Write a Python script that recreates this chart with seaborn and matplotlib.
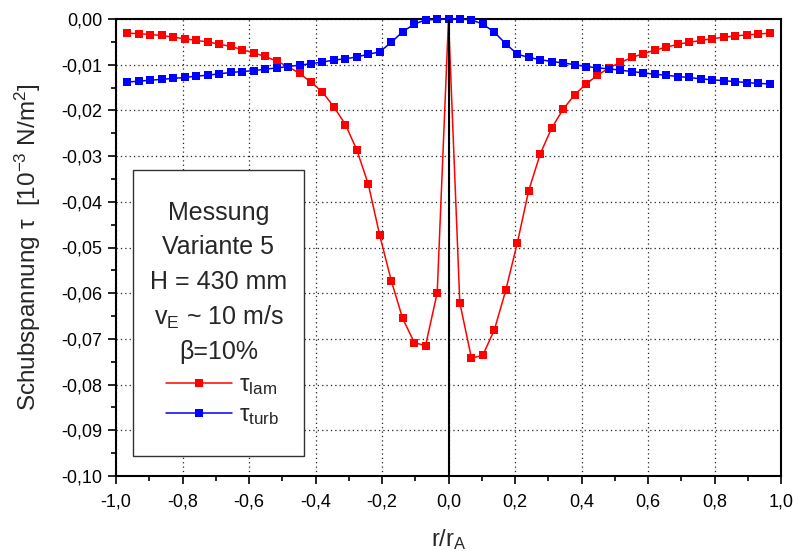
import matplotlib
matplotlib.use("Agg")
import matplotlib.pyplot as plt
import matplotlib.ticker as mticker
from matplotlib.patches import Rectangle
import seaborn as sns
import pandas as pd

# radial position r/r_A of each measuring point
r_pos = [-0.966, -0.931, -0.897, -0.862, -0.828, -0.793, -0.759, -0.724, -0.690, -0.655,
         -0.621, -0.586, -0.552, -0.517, -0.483, -0.448, -0.414, -0.379, -0.345, -0.310,
         -0.276, -0.241, -0.207, -0.172, -0.138, -0.103, -0.069, -0.034, 0.0,
         0.034, 0.069, 0.103, 0.138, 0.172, 0.207, 0.241, 0.276, 0.310, 0.345,
         0.379, 0.414, 0.448, 0.483, 0.517, 0.552, 0.586, 0.621, 0.655, 0.690,
         0.724, 0.759, 0.793, 0.828, 0.862, 0.897, 0.931, 0.966]

# laminar shear stress
tau_lam = [-0.0031, -0.0032, -0.0034, -0.0036, -0.0040, -0.0043, -0.0047, -0.0050, -0.0055, -0.0060,
           -0.0067, -0.0074, -0.0082, -0.0092, -0.0104, -0.0119, -0.0138, -0.0160, -0.0192, -0.0231,
           -0.0286, -0.0362, -0.0473, -0.0573, -0.0655, -0.0708, -0.0715, -0.0599, 0.0,
           -0.0621, -0.0742, -0.0736, -0.0680, -0.0594, -0.0490, -0.0376, -0.0295, -0.0239, -0.0197,
           -0.0166, -0.0142, -0.0123, -0.0107, -0.0095, -0.0084, -0.0076, -0.0068, -0.0062, -0.0055,
           -0.0051, -0.0047, -0.0043, -0.0040, -0.0037, -0.0035, -0.0033, -0.0031]

# turbulent shear stress
tau_turb = [-0.0138, -0.0136, -0.0134, -0.0132, -0.0130, -0.0128, -0.0125, -0.0123, -0.0120, -0.0117,
            -0.0115, -0.0113, -0.0110, -0.0107, -0.0104, -0.0101, -0.0098, -0.0094, -0.0090, -0.0087,
            -0.0083, -0.0077, -0.0072, -0.0051, -0.0028, -0.0011, -0.0002, -0.0001, 0.0,
            0.0, -0.0002, -0.0011, -0.0029, -0.0054, -0.0077, -0.0084, -0.0089, -0.0093, -0.0096,
            -0.0100, -0.0104, -0.0107, -0.0109, -0.0112, -0.0115, -0.0118, -0.0121, -0.0123, -0.0126,
            -0.0128, -0.0131, -0.0133, -0.0135, -0.0137, -0.0139, -0.0141, -0.0142]

series_names = ["lam", "turb"]
series_labels = ["τ$_{\\mathrm{lam}}$", "τ$_{\\mathrm{turb}}$"]
series_colors = ["#ff0000", "#0000ff"]

info_lines = ["Messung", "Variante 5", "H = 430 mm", "v$_{\\mathrm{E}}$ ~ 10 m/s", "β=10%"]

x_ticks = [-1.0, -0.8, -0.6, -0.4, -0.2, 0.0, 0.2, 0.4, 0.6, 0.8, 1.0]
y_ticks = [0.0, -0.01, -0.02, -0.03, -0.04, -0.05, -0.06, -0.07, -0.08, -0.09, -0.10]

df = pd.DataFrame({
    "r": r_pos * 2,
    "tau": tau_lam + tau_turb,
    "series": [series_names[0]] * len(r_pos) + [series_names[1]] * len(r_pos),
})

sns.set_theme(style="ticks")
plt.rcParams["font.family"] = ["Liberation Sans", "DejaVu Sans"]
plt.rcParams["mathtext.fontset"] = "custom"
plt.rcParams["mathtext.rm"] = "Liberation Sans"
plt.rcParams["mathtext.it"] = "Liberation Sans:italic"
plt.rcParams["mathtext.bf"] = "Liberation Sans:bold"

W, H = 793, 551
fig = plt.figure(figsize=(W / 100, H / 100), dpi=100)
ax = fig.add_axes([116 / W, 1 - 476 / H, (781 - 116) / W, (476 - 19) / H])

sns.lineplot(data=df, x="r", y="tau", hue="series", hue_order=series_names,
             palette=dict(zip(series_names, series_colors)), estimator=None, sort=True,
             marker="s", markersize=6, markeredgewidth=0, linewidth=1.1,
             legend=False, ax=ax, zorder=4)
for ln in ax.get_lines():
    ln.set_clip_on(False)

ax.axvline(0, color="black", linewidth=1.5, zorder=5)

ax.set_xlim(-1.0, 1.0)
ax.set_ylim(-0.10, 0.0)
ax.set_xticks(x_ticks)
ax.set_yticks(y_ticks)
ax.xaxis.set_minor_locator(mticker.MultipleLocator(0.1))
ax.yaxis.set_minor_locator(mticker.MultipleLocator(0.005))
ax.xaxis.set_major_formatter(mticker.FuncFormatter(lambda v, p: f"{v:.1f}".replace(".", ",")))
ax.yaxis.set_major_formatter(mticker.FuncFormatter(lambda v, p: ("0,00" if abs(v) < 1e-9 else f"{v:.2f}".replace(".", ","))))

ax.tick_params(which="major", direction="out", length=6, width=1.2, labelsize=13,
               color="black", labelcolor="black")
ax.tick_params(which="minor", direction="out", length=3.3, width=1.2, color="black")
ax.tick_params(axis="x", which="major", pad=6.5)
ax.tick_params(axis="y", which="major", pad=4)
ax.tick_params(top=False, right=False)

for s in ax.spines.values():
    s.set_visible(True)
    s.set_color("black")
    s.set_linewidth(1.5)

ax.grid(which="major", color="#222222", linestyle=(0, (1, 2.5)), linewidth=0.9)
ax.set_axisbelow(True)

ax.set_xlabel("r/r$_{\\mathrm{A}}$", fontsize=17, labelpad=12)
ax.set_ylabel("Schubspannung τ  [10$^{-3}$ N/m$^{2}$]", fontsize=17.5, labelpad=13)

# info box on the left
box = Rectangle((133 / W, 1 - 456 / H), (304 - 133) / W, (456 - 170) / H,
                transform=fig.transFigure, facecolor="white", edgecolor="#333333",
                linewidth=1.0, zorder=6, clip_on=False)
ax.add_patch(box)

y_px = [213, 247, 282, 317, 352]
for txt, yp in zip(info_lines, y_px):
    fig.text(218.5 / W, 1 - yp / H, txt, ha="center", va="center", fontsize=18, zorder=7)

handles = ax.get_lines()[:2]
leg = ax.legend(handles, series_labels, loc="upper left", frameon=False,
                bbox_to_anchor=(166 / W, 1 - 374 / H), bbox_transform=fig.transFigure,
                borderpad=0, borderaxespad=0, handlelength=2.7, handletextpad=0.3,
                labelspacing=0.3, fontsize=17.5)
leg.set_zorder(8)

fig.savefig("out.png", dpi=100)
